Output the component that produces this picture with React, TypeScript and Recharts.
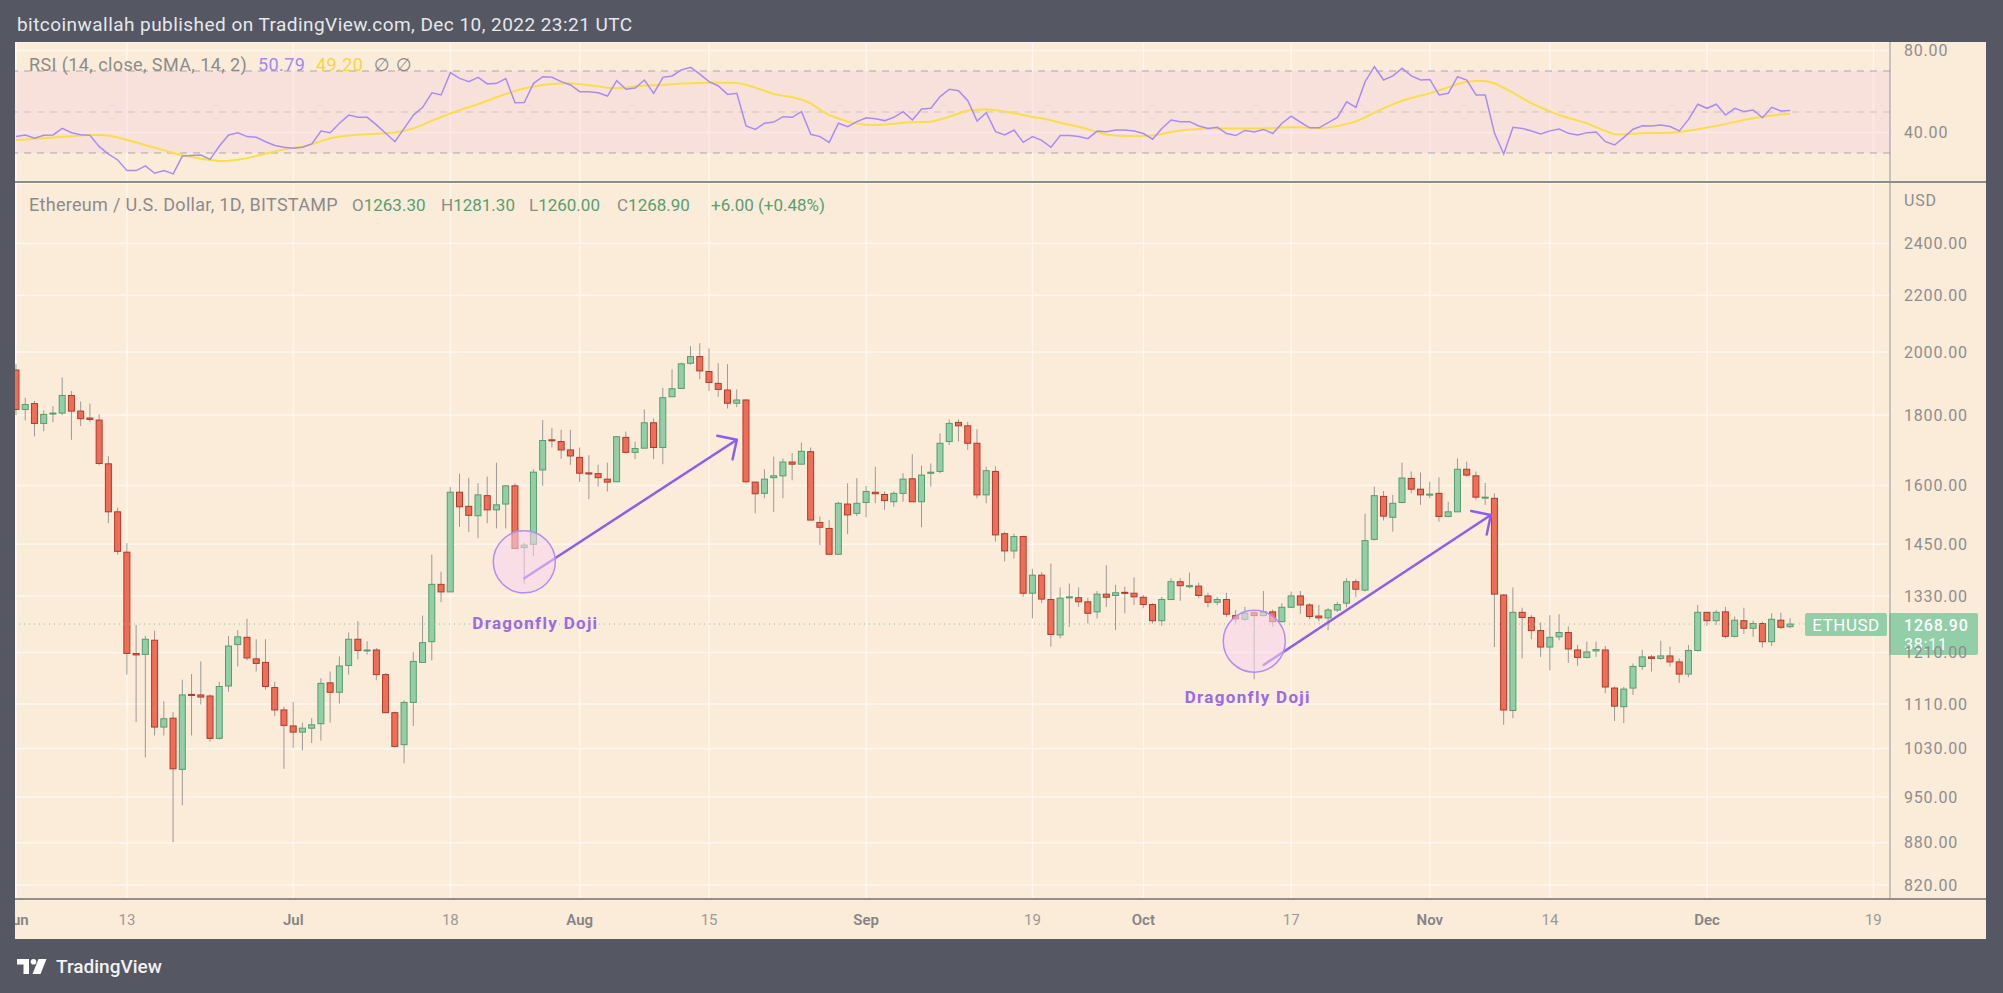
import {
  ComposedChart,
  Line,
  Bar,
  XAxis,
  YAxis,
  CartesianGrid,
  ReferenceLine,
  ReferenceArea,
  ReferenceDot,
} from "recharts";

// day index 0 = Jun 1 2022, last candle = Dec 10 2022
const dayTicks = [0, 12, 30, 47, 61, 75, 92, 110, 122, 138, 153, 166, 183, 201];
const dayTickLabels = ["Jun", "13", "Jul", "18", "Aug", "15", "Sep", "19", "Oct", "17", "Nov", "14", "Dec", "19"];
const priceTicks = [820, 880, 950, 1030, 1110, 1210, 1330, 1450, 1600, 1800, 2000, 2200, 2400];
const rsiTicks = [40, 80];

const opens = [
  1941, 1817, 1835, 1775, 1804, 1806, 1860, 1812, 1791, 1785,
  1659, 1531, 1431, 1208, 1206, 1235, 1068, 1084, 995, 1128,
  1127, 1125, 1048, 1144, 1226, 1241, 1197, 1190, 1141, 1099,
  1070, 1059, 1066, 1074, 1150, 1132, 1184, 1237, 1213, 1215,
  1166, 1094, 1037, 1113, 1190, 1232, 1356, 1339, 1582, 1545,
  1521, 1573, 1536, 1551, 1599, 1442, 1450, 1642, 1727, 1722,
  1698, 1677, 1634, 1632, 1617, 1610, 1734, 1691, 1703, 1777,
  1705, 1856, 1882, 1963, 1985, 1936, 1898, 1877, 1836, 1846,
  1609, 1579, 1621, 1626, 1664, 1658, 1693, 1504, 1489, 1426,
  1551, 1527, 1555, 1582, 1576, 1557, 1579, 1618, 1557, 1633,
  1638, 1722, 1778, 1768, 1717, 1575, 1638, 1476, 1434, 1469,
  1336, 1377, 1322, 1246, 1327, 1326, 1317, 1295, 1334, 1331,
  1338, 1336, 1327, 1311, 1276, 1322, 1362, 1351, 1352, 1330,
  1316, 1322, 1287, 1279, 1293, 1287, 1295, 1274, 1305, 1330,
  1310, 1286, 1282, 1299, 1314, 1362, 1343, 1462, 1571, 1517,
  1555, 1619, 1590, 1576, 1579, 1519, 1531, 1644, 1626, 1567,
  1566, 1332, 1098, 1294, 1283, 1255, 1221, 1242, 1251, 1215,
  1200, 1213, 1215, 1140, 1105, 1140, 1182, 1201, 1198, 1203,
  1191, 1167, 1214, 1294, 1276, 1295, 1243, 1276, 1260, 1270,
  1232, 1277, 1263.3,
];

const highs = [
  1960, 1853, 1843, 1814, 1827, 1917, 1874, 1841, 1835, 1802,
  1681, 1542, 1453, 1267, 1244, 1255, 1115, 1095, 1156, 1167,
  1192, 1128, 1152, 1244, 1256, 1280, 1237, 1237, 1152, 1105,
  1114, 1076, 1084, 1159, 1172, 1202, 1251, 1275, 1233, 1219,
  1169, 1096, 1117, 1211, 1287, 1425, 1385, 1596, 1632, 1621,
  1606, 1624, 1662, 1601, 1606, 1455, 1644, 1785, 1762, 1756,
  1756, 1705, 1683, 1656, 1662, 1738, 1751, 1722, 1817, 1790,
  1884, 1943, 1965, 2020, 2030, 2013, 1963, 1960, 1879, 1848,
  1610, 1644, 1679, 1674, 1689, 1719, 1705, 1519, 1510, 1557,
  1606, 1620, 1599, 1651, 1584, 1584, 1633, 1686, 1654, 1660,
  1746, 1787, 1787, 1780, 1758, 1651, 1652, 1481, 1476, 1471,
  1392, 1384, 1404, 1349, 1358, 1349, 1326, 1341, 1400, 1355,
  1351, 1372, 1332, 1314, 1328, 1370, 1370, 1383, 1360, 1337,
  1328, 1337, 1299, 1306, 1299, 1341, 1300, 1314, 1340, 1341,
  1314, 1310, 1303, 1317, 1370, 1368, 1526, 1597, 1585, 1575,
  1662, 1638, 1635, 1610, 1622, 1557, 1674, 1665, 1638, 1607,
  1579, 1334, 1349, 1304, 1288, 1272, 1288, 1290, 1264, 1225,
  1232, 1232, 1223, 1143, 1142, 1188, 1215, 1205, 1234, 1222,
  1198, 1225, 1310, 1295, 1299, 1306, 1285, 1304, 1276, 1274,
  1292, 1293, 1281.3,
];

const lows = [
  1800, 1784, 1737, 1752, 1779, 1800, 1727, 1767, 1779, 1655,
  1502, 1425, 1166, 1077, 1015, 1053, 1053, 881, 937, 1053,
  1109, 1042, 1046, 1133, 1182, 1194, 1172, 1137, 1088, 996,
  1032, 1027, 1040, 1044, 1076, 1111, 1166, 1196, 1206, 1155,
  1093, 1032, 1005, 1070, 1189, 1194, 1316, 1339, 1493, 1480,
  1465, 1502, 1489, 1489, 1438, 1358, 1422, 1599, 1705, 1673,
  1656, 1609, 1564, 1597, 1584, 1609, 1688, 1672, 1703, 1672,
  1658, 1856, 1880, 1958, 1911, 1874, 1856, 1820, 1824, 1606,
  1527, 1566, 1531, 1566, 1614, 1658, 1510, 1448, 1426, 1426,
  1475, 1520, 1517, 1553, 1536, 1544, 1557, 1557, 1492, 1597,
  1633, 1712, 1722, 1698, 1566, 1553, 1456, 1409, 1416, 1328,
  1281, 1314, 1222, 1239, 1263, 1306, 1270, 1281, 1306, 1256,
  1292, 1310, 1303, 1270, 1265, 1321, 1319, 1347, 1325, 1305,
  1310, 1284, 1270, 1276, 1157, 1285, 1263, 1272, 1303, 1291,
  1279, 1275, 1256, 1295, 1305, 1327, 1340, 1459, 1509, 1481,
  1553, 1579, 1549, 1566, 1506, 1517, 1531, 1624, 1562, 1549,
  1221, 1072, 1084, 1198, 1237, 1201, 1174, 1235, 1189, 1183,
  1198, 1201, 1130, 1079, 1075, 1127, 1175, 1172, 1195, 1182,
  1150, 1161, 1212, 1265, 1267, 1239, 1241, 1248, 1242, 1220,
  1223, 1258, 1260,
];

const closes = [
  1817, 1832, 1775, 1802, 1806, 1860, 1812, 1789, 1787, 1660,
  1531, 1433, 1208, 1205, 1237, 1068, 1083, 996, 1127, 1126,
  1123, 1048, 1143, 1223, 1242, 1199, 1188, 1143, 1099, 1071,
  1059, 1066, 1072, 1149, 1132, 1183, 1237, 1214, 1215, 1166,
  1094, 1034, 1113, 1192, 1230, 1356, 1339, 1582, 1544, 1522,
  1575, 1536, 1549, 1599, 1440, 1448, 1636, 1725, 1725, 1698,
  1681, 1633, 1631, 1621, 1609, 1736, 1691, 1702, 1777, 1705,
  1853, 1881, 1961, 1985, 1938, 1901, 1879, 1836, 1846, 1610,
  1578, 1617, 1626, 1664, 1658, 1694, 1510, 1492, 1426, 1553,
  1523, 1553, 1584, 1578, 1560, 1579, 1617, 1557, 1628, 1636,
  1717, 1775, 1768, 1717, 1575, 1640, 1473, 1434, 1469, 1336,
  1377, 1323, 1247, 1325, 1328, 1317, 1292, 1334, 1327, 1337,
  1336, 1328, 1311, 1276, 1322, 1362, 1353, 1353, 1331, 1316,
  1322, 1290, 1280, 1292, 1287, 1295, 1274, 1305, 1330, 1310,
  1285, 1282, 1299, 1311, 1362, 1345, 1459, 1573, 1520, 1553,
  1620, 1590, 1575, 1577, 1519, 1531, 1644, 1628, 1569, 1569,
  1334, 1099, 1294, 1283, 1255, 1221, 1241, 1251, 1217, 1200,
  1211, 1216, 1142, 1106, 1138, 1182, 1201, 1198, 1203, 1191,
  1167, 1214, 1294, 1276, 1294, 1243, 1277, 1260, 1270, 1232,
  1279, 1262, 1268.9,
];

const rsiValues = [
  38.0, 38.8, 37.2, 38.6, 38.8, 42.0, 39.9, 38.9, 38.6, 33.1,
  29.5, 26.6, 21.4, 21.4, 23.7, 20.1, 21.4, 19.8, 28.5, 28.8,
  29.0, 26.9, 33.4, 38.8, 39.9, 38.0, 37.7, 35.5, 33.7, 32.8,
  32.3, 32.8, 34.4, 40.7, 39.9, 44.5, 48.5, 47.4, 47.4, 43.7,
  39.6, 35.5, 42.0, 48.5, 52.3, 59.4, 58.3, 69.2, 66.4, 64.8,
  66.9, 63.7, 64.0, 66.3, 54.5, 54.6, 64.0, 67.2, 66.9, 64.8,
  63.2, 59.9, 59.9, 59.4, 57.8, 65.3, 61.1, 61.7, 65.6, 59.1,
  66.9, 67.6, 70.5, 71.8, 68.5, 64.8, 62.7, 58.6, 59.1, 43.2,
  41.5, 44.5, 45.1, 47.7, 47.4, 50.2, 39.1, 38.0, 35.2, 44.5,
  42.8, 45.3, 47.2, 46.7, 45.8, 47.4, 50.2, 46.1, 51.5, 51.8,
  57.5, 61.1, 60.4, 55.5, 45.6, 49.7, 40.4, 38.8, 41.2, 35.2,
  38.0, 36.2, 32.8, 38.5, 38.5, 38.0, 37.0, 40.7, 40.4, 41.2,
  41.2, 40.7, 39.5, 36.7, 42.0, 46.1, 45.3, 45.3, 43.2, 42.0,
  42.5, 39.5, 38.5, 41.0, 40.3, 41.5, 39.5, 44.5, 48.0, 45.0,
  42.3, 42.3, 44.8, 47.4, 55.0, 52.3, 64.8, 72.1, 65.6, 67.6,
  71.3, 67.6, 65.6, 65.9, 58.3, 59.1, 67.2, 65.6, 58.3, 58.3,
  39.6, 29.5, 42.5, 42.0, 40.7, 39.3, 40.8, 41.7, 39.6, 38.8,
  39.9, 40.2, 35.5, 33.9, 37.6, 41.6, 43.3, 43.2, 43.7, 42.9,
  40.8, 46.4, 53.8, 51.8, 53.8, 48.5, 51.8, 50.2, 51.0, 47.2,
  52.3, 50.5, 50.79,
];

const rsiSma = [
  36.3, 36.6, 36.9, 37.2, 37.5, 37.9, 38.2, 38.5, 38.8, 38.8,
  38.5, 37.6, 36.3, 35.2, 33.8, 32.6, 31.4, 30.0, 28.9, 28.0,
  27.2, 26.6, 26.1, 26.2, 26.7, 27.5, 28.5, 29.6, 30.8, 31.8,
  32.5, 33.1, 34.3, 35.8, 37.2, 38.0, 38.5, 38.9, 39.2, 39.4,
  39.6, 40.0, 40.8, 42.0, 43.7, 45.8, 47.5, 49.3, 50.9, 52.3,
  53.8, 55.5, 57.2, 58.8, 60.3, 61.5, 62.4, 63.2, 63.7, 63.9,
  64.0, 63.6, 63.0, 62.5, 61.8, 61.6, 61.9, 62.5, 62.9, 63.1,
  63.2, 63.5, 63.9, 64.0, 64.2, 64.3, 64.3, 64.3, 64.2, 63.3,
  61.9, 60.4, 58.8, 57.9, 57.2, 56.1, 54.2, 51.2, 48.5, 46.8,
  45.3, 44.4, 43.8, 43.7, 43.9, 44.3, 44.8, 45.0, 45.1, 45.3,
  46.3, 47.7, 49.3, 50.7, 51.1, 51.3, 50.9, 50.2, 49.4, 48.5,
  47.6, 46.9, 46.0, 44.8, 43.8, 42.8, 41.6, 40.2, 39.0, 38.5,
  38.3, 38.3, 38.3, 38.5, 39.3, 40.2, 41.0, 41.4, 41.7, 41.9,
  41.9, 41.9, 41.9, 41.9, 41.9, 41.9, 42.1, 42.4, 42.5, 42.6,
  42.3, 42.0, 42.5, 43.2, 44.2, 45.3, 47.4, 49.7, 51.8, 53.7,
  55.5, 56.8, 58.0, 59.1, 60.6, 62.0, 63.5, 64.8, 65.1, 65.1,
  64.0, 61.8, 59.4, 56.8, 54.2, 52.2, 50.3, 48.5, 47.1, 45.8,
  44.5, 42.6, 40.7, 39.1, 39.2, 39.4, 39.6, 39.7, 39.8, 39.9,
  40.3, 40.8, 41.6, 42.4, 43.2, 44.2, 45.1, 46.1, 46.9, 47.7,
  48.3, 48.8, 49.2,
];

// drawn annotations, in chart units (day index, price)
const dojiDays = [55, 134];
const dojiRingPrices = [1408, 1233];
const arrowStarts = [[55, 1370], [135, 1185]];
const arrowEnds = [[78, 1727], [159.6, 1523]];
const dojiLabelSpots = [[56.2, 1271], [133.3, 1123]];

const rows = opens.map((open, i) => ({
  d: i,
  open,
  high: highs[i],
  low: lows[i],
  close: closes[i],
  rsi: rsiValues[i],
  sma: rsiSma[i],
}));

const FONT = "Roboto, 'Noto Sans', 'DejaVu Sans', sans-serif";
const X_DOMAIN: [number, number] = [-0.119, 202.8];
const CHART_W = 1971;
const AXIS_W = 96;
const PANEL_BG = "#FBEBD9";
const GRID = "#FFF7EF";
const AXIS_TEXT = "#8E8E8E";
const UP_FILL = "#92CFA7";
const UP_LINE = "#579C6F";
const DOWN_FILL = "#F26D56";
const DOWN_LINE = "#A93C2E";
const WICK = "#9C9A98";
const LAST_GREEN = "#92CEA8";
const PURPLE = "#8C5EEE";
const LEGEND_GRAY = "#8B8B8B";
const LEGEND_GREEN = "#5A9E70";

const Wick = (p: any) => {
  const { x, y, width, height } = p;
  if (x == null || y == null) return null;
  return <rect x={x + width / 2 - 0.5} y={y} width={1} height={Math.max(height, 1)} fill={WICK} />;
};

const Body = (p: any) => {
  const { x, y, width, height, payload } = p;
  if (x == null || y == null) return null;
  const up = payload.close >= payload.open;
  return (
    <rect
      x={x + 0.5}
      y={y}
      width={width - 1}
      height={Math.max(height, 1)}
      fill={up ? UP_FILL : DOWN_FILL}
      stroke={up ? UP_LINE : DOWN_LINE}
      strokeWidth={1}
    />
  );
};

const PriceTick = (p: any) => (
  <text x={p.x + 14} y={p.y} dy="0.35em" fontSize={16} letterSpacing={0.8} fill={AXIS_TEXT} fontFamily={FONT}>
    {Number(p.payload.value).toFixed(2)}
  </text>
);

const DayTick = (p: any) => {
  const label = dayTickLabels[dayTicks.indexOf(p.payload.value)];
  const isMonth = /[A-Za-z]/.test(label);
  return (
    <text
      x={p.x}
      y={p.y + 21}
      dy="0.35em"
      textAnchor="middle"
      fontSize={15}
      fontWeight={isMonth ? 600 : 400}
      fill={isMonth ? "#858585" : "#9A9A9A"}
      fontFamily={FONT}
    >
      {label}
    </text>
  );
};

const arrowShape = (p: any) => {
  const { x1, y1, x2, y2 } = p;
  const ang = Math.atan2(y2 - y1, x2 - x1);
  const len = 20;
  const spread = 0.78;
  const a1x = x2 - len * Math.cos(ang - spread);
  const a1y = y2 - len * Math.sin(ang - spread);
  const a2x = x2 - len * Math.cos(ang + spread);
  const a2y = y2 - len * Math.sin(ang + spread);
  return (
    <g>
      <line x1={x1} y1={y1} x2={x2} y2={y2} stroke={PURPLE} strokeWidth={2.5} strokeLinecap="round" />
      <polyline
        points={`${a1x},${a1y} ${x2},${y2} ${a2x},${a2y}`}
        fill="none"
        stroke={PURPLE}
        strokeWidth={2.5}
        strokeLinecap="round"
        strokeLinejoin="round"
      />
    </g>
  );
};

const dojiText = (p: any) => {
  const vb = p.viewBox;
  if (!vb) return null;
  return (
    <text
      x={vb.x + vb.width / 2}
      y={vb.y + vb.height / 2}
      dy="0.35em"
      textAnchor="middle"
      fontSize={17}
      fontWeight={700}
      letterSpacing={1.3}
      fill="#9A6AE6"
      fontFamily={FONT}
    >
      Dragonfly Doji
    </text>
  );
};

const LastPriceLabel = (p: any) => {
  const vb = p.viewBox;
  if (!vb) return null;
  const y = vb.y;
  const right = vb.x + vb.width;
  const last = closes[closes.length - 1];
  return (
    <g fontFamily={FONT}>
      <rect x={right - 85} y={y - 11} width={82} height={23} rx={2} fill={LAST_GREEN} />
      <text x={right - 44} y={y + 1} dy="0.35em" textAnchor="middle" fill="#fff" fontSize={17} letterSpacing={0.5}>
        ETHUSD
      </text>
      <rect x={right - 1} y={y - 11} width={89} height={42} rx={2} fill={LAST_GREEN} />
      <text x={right + 14} y={y + 1} dy="0.35em" fill="#fff" fontSize={16} fontWeight={500} letterSpacing={0.8}>
        {last.toFixed(2)}
      </text>
      <text x={right + 14} y={y + 20} dy="0.35em" fill="#fff" fontSize={16} letterSpacing={0.8}>
        38:11
      </text>
    </g>
  );
};

const abs = (left: number, top: number, extra: any = {}) => ({
  position: "absolute" as const,
  left,
  top,
  ...extra,
});

const legendText = { fontSize: 18, lineHeight: "22px", letterSpacing: 0.4, whiteSpace: "nowrap" };

const TvLogo = () => (
  <svg width={30} height={15} viewBox="0 0 30 15" style={abs(17, 959)}>
    <path d="M0 0 H12 V15 H6.5 V5.5 H0 Z" fill="#fff" />
    <circle cx={16.5} cy={2.8} r={2.8} fill="#fff" />
    <path d="M21.5 0 H29.5 L23.5 15 H15.5 Z" fill="#fff" />
  </svg>
);

export default function App() {
  return (
    <div
      style={{
        position: "fixed",
        left: 0,
        top: 0,
        width: 2003,
        height: 993,
        background: "#555763",
        fontFamily: FONT,
        overflow: "hidden",
      }}
    >
      <div style={abs(17, 13, { fontSize: 19, letterSpacing: 0.45, color: "#E6E7EB", lineHeight: "24px", whiteSpace: "nowrap" })}>
        bitcoinwallah published on TradingView.com, Dec 10, 2022 23:21 UTC
      </div>

      <div style={abs(15, 42, { width: CHART_W, height: 897, background: PANEL_BG })} />

      {/* RSI pane */}
      <div style={abs(15, 42, { width: CHART_W, height: 140, overflow: "hidden" })}>
        <ComposedChart width={CHART_W} height={140} data={rows} margin={{ top: 0, right: 0, bottom: 0, left: 0 }}>
          <XAxis type="number" dataKey="d" domain={X_DOMAIN} ticks={dayTicks} interval={0} hide allowDataOverflow />
          <YAxis
            orientation="right"
            width={AXIS_W}
            domain={[15.85, 84.15]}
            ticks={rsiTicks}
            interval={0}
            tickSize={0}
            tickMargin={0}
            tickLine={false}
            axisLine={{ stroke: "#8F8F8F" }}
            tick={PriceTick}
            allowDataOverflow
          />
          <ReferenceArea y1={30} y2={70} fill="#F7D3DF" fillOpacity={0.4} stroke="none" />
          <CartesianGrid stroke={GRID} strokeWidth={1.5} />
          <ReferenceLine y={70} stroke="#A9A6AA" strokeDasharray="7 6" />
          <ReferenceLine y={50} stroke="#CDC3C2" strokeDasharray="7 6" />
          <ReferenceLine y={30} stroke="#A9A6AA" strokeDasharray="7 6" />
          <Line dataKey="sma" stroke="#F8DE4A" strokeWidth={2} dot={false} isAnimationActive={false} />
          <Line dataKey="rsi" stroke="#A98CF2" strokeWidth={1.5} dot={false} isAnimationActive={false} />
        </ComposedChart>
      </div>
      <div style={abs(15, 181, { width: CHART_W, height: 2, background: "#8C8C8C" })} />

      <div style={abs(29, 54, { ...legendText, color: LEGEND_GRAY })}>RSI (14, close, SMA, 14, 2)</div>
      <div style={abs(258, 54, { ...legendText, color: "#A389F0" })}>
        {rsiValues[rsiValues.length - 1].toFixed(2)}
      </div>
      <div style={abs(316, 54, { ...legendText, color: "#F2D83C" })}>
        {rsiSma[rsiSma.length - 1].toFixed(2)}
      </div>
      <div style={abs(374, 54, { ...legendText, color: LEGEND_GRAY })}>∅</div>
      <div style={abs(396, 54, { ...legendText, color: LEGEND_GRAY })}>∅</div>

      {/* price pane */}
      <div style={abs(15, 183, { width: CHART_W, height: 756, overflow: "hidden" })}>
        <ComposedChart width={CHART_W} height={756} data={rows} margin={{ top: 0, right: 0, bottom: 0, left: 0 }}>
          <CartesianGrid stroke={GRID} strokeWidth={1.5} />
          <XAxis
            type="number"
            dataKey="d"
            domain={X_DOMAIN}
            ticks={dayTicks}
            interval={0}
            height={40}
            tickSize={0}
            tickMargin={0}
            tickLine={false}
            axisLine={{ stroke: "#8F8F8F", strokeWidth: 1.5 }}
            tick={DayTick}
            allowDataOverflow
          />
          <XAxis xAxisId="body" type="number" dataKey="d" domain={X_DOMAIN} hide allowDataOverflow />
          <YAxis
            orientation="right"
            width={AXIS_W}
            scale="log"
            domain={[801, 2654]}
            ticks={priceTicks}
            interval={0}
            tickSize={0}
            tickMargin={0}
            tickLine={false}
            axisLine={{ stroke: "#8F8F8F" }}
            tick={PriceTick}
            allowDataOverflow
          />
          <ReferenceLine
            y={closes[closes.length - 1]}
            stroke="#7FC79A"
            strokeDasharray="1 4"
            label={{ content: LastPriceLabel }}
          />
          <Bar
            dataKey={(r: any) => [r.low, r.high]}
            barSize={7}
            shape={Wick}
            isAnimationActive={false}
          />
          <Bar
            xAxisId="body"
            dataKey={(r: any) => [Math.min(r.open, r.close), Math.max(r.open, r.close)]}
            barSize={7}
            shape={Body}
            isAnimationActive={false}
          />
          {dojiDays.map((d, i) => (
            <ReferenceDot
              key={`ring${i}`}
              x={d}
              y={dojiRingPrices[i]}
              r={31}
              fill="#F7D6EE"
              fillOpacity={0.55}
              stroke="#B48CF2"
              strokeWidth={1.5}
              ifOverflow="visible"
            />
          ))}
          {arrowStarts.map((s, i) => (
            <ReferenceLine
              key={`arrow${i}`}
              segment={[
                { x: s[0], y: s[1] },
                { x: arrowEnds[i][0], y: arrowEnds[i][1] },
              ]}
              shape={arrowShape}
              ifOverflow="visible"
            />
          ))}
          {dojiLabelSpots.map((s, i) => (
            <ReferenceDot
              key={`lbl${i}`}
              x={s[0]}
              y={s[1]}
              r={1}
              fill="none"
              stroke="none"
              label={{ content: dojiText }}
              ifOverflow="visible"
            />
          ))}
        </ComposedChart>
      </div>
      <div style={abs(15, 898, { width: CHART_W, height: 1.5, background: "#8F8F8F" })} />

      <div style={abs(29, 194, { ...legendText, letterSpacing: 0.3, color: LEGEND_GRAY })}>
        Ethereum / U.S. Dollar, 1D, BITSTAMP
      </div>
      {[
        ["O", opens[opens.length - 1].toFixed(2), 352],
        ["H", highs[highs.length - 1].toFixed(2), 441],
        ["L", lows[lows.length - 1].toFixed(2), 529],
        ["C", closes[closes.length - 1].toFixed(2), 617],
      ].map(([k, v, x]) => (
        <div key={k as string} style={abs(x as number, 194, { fontSize: 17, lineHeight: "22px", whiteSpace: "nowrap" })}>
          <span style={{ color: LEGEND_GRAY }}>{k}</span>
          <span style={{ color: LEGEND_GREEN }}>{v}</span>
        </div>
      ))}
      <div style={abs(711, 194, { fontSize: 17, lineHeight: "22px", color: LEGEND_GREEN, whiteSpace: "nowrap" })}>
        +6.00 (+0.48%)
      </div>
      <div style={abs(1904, 190, { fontSize: 16, lineHeight: "22px", color: AXIS_TEXT, letterSpacing: 0.8 })}>USD</div>

      <TvLogo />
      <div style={abs(56, 955, { fontSize: 19, lineHeight: "24px", color: "#F2F2F4", fontWeight: 500 })}>TradingView</div>
    </div>
  );
}
